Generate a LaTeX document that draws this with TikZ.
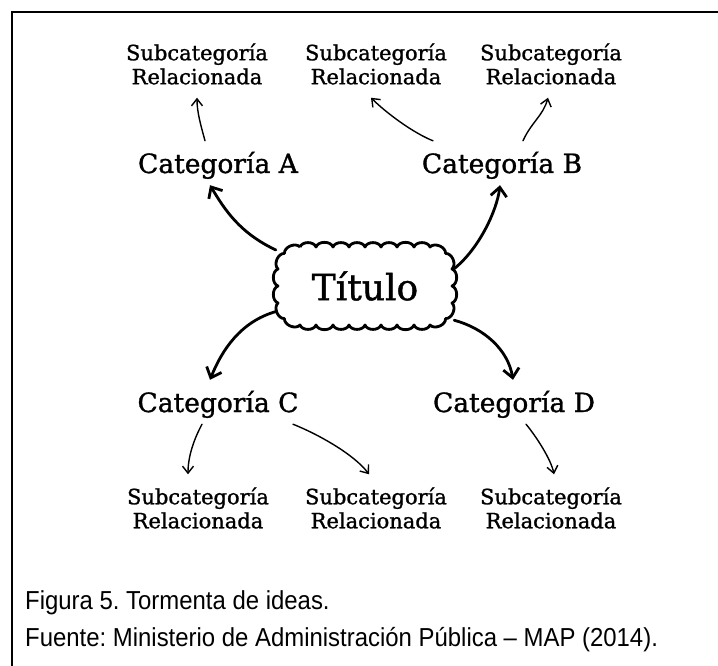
\documentclass[tikz,border=0pt]{standalone}
\usepackage{fontspec}
\setmainfont{DejaVu Serif}[FakeBold=1.2]
\newfontfamily\capfont{Liberation Sans}
\usetikzlibrary{arrows.meta}

\begin{document}
\begin{tikzpicture}[x=1pt,y=-1pt,
  subnode/.style={align=center, inner xsep=0pt, inner ysep=13pt,
    font=\fontsize{21}{24}\selectfont},
  catnode/.style={inner sep=0pt, text height=23pt, text depth=3pt,
    minimum height=44pt, font=\fontsize{26.5}{30}\selectfont},
  bigarrow/.style={line width=2.8pt, line cap=round,
    -{Straight Barb[length=9pt,width=16pt]}},
  smallarrow/.style={line width=1.4pt, line cap=round,
    -{Straight Barb[length=7pt,width=11pt]}},
  cloudline/.style={line width=2.8pt, line join=round},
  caption/.style={anchor=base west, inner sep=0pt, xscale=0.92,
    font=\capfont\frenchspacing\fontsize{26}{30}\selectfont},
]
\useasboundingbox (0,0) rectangle (718,666);
\fill[white] (0,0) rectangle (718,666);
\draw[line width=2pt] (12,666) -- (12,12) -- (718,12);

% central title and the cloud around it
\node[inner sep=0pt, minimum width=178pt, minimum height=82pt,
  font=\fontsize{36}{40}\selectfont] (title) at (365,286) {Título};
\foreach \i/\px/\py in {0/-65/-39, 1/-49/-39, 2/-32/-39, 3/-16/-39,
    4/0/-39, 5/16/-39, 6/32/-39, 7/49/-39, 8/65/-39, 9/80.6/-32.6,
    10/87/-17, 11/87/0, 12/87/17, 13/80.6/32.6, 14/65/39, 15/49/39,
    16/32/39, 17/16/39, 18/0/39, 19/-16/39, 20/-32/39, 21/-49/39,
    22/-65/39, 23/-80.6/32.6, 24/-87/17, 25/-87/0, 26/-87/-17,
    27/-80.6/-32.6}
  {\path (title.center) ++(\px,\py) coordinate (cp\i);}
\draw[cloudline] (cp0) \foreach \i in {1,...,27} { to[bend left=70] (cp\i) }
  to[bend left=70] (cp0);

% categories
\node[catnode] (catA) at (218,163) {Categoría A};
\node[catnode] (catB) at (502,163) {Categoría B};
\node[catnode] (catC) at (218,402) {Categoría C};
\node[catnode] (catD) at (514,402) {Categoría D};

% related subcategories
\node[subnode] (subA)  at (197,64)  {Subcategoría\\Relacionada};
\node[subnode] (subB1) at (376,64)  {Subcategoría\\Relacionada};
\node[subnode] (subB2) at (551,64)  {Subcategoría\\Relacionada};
\node[subnode] (subC1) at (198,508) {Subcategoría\\Relacionada};
\node[subnode] (subC2) at (376,508) {Subcategoría\\Relacionada};
\node[subnode] (subD)  at (551,508) {Subcategoría\\Relacionada};

% title to categories
\draw[bigarrow] (title.158) .. controls +(-36,-17) and +(15,25) .. ([xshift=-8pt]catA.south);
\draw[bigarrow] (title.11)  .. controls +(25,-20) and +(-3,25) .. ([xshift=-2pt]catB.south);
\draw[bigarrow] (title.196) .. controls +(-35,10) and +(12,-30) .. ([xshift=-8pt]catC.north);
\draw[bigarrow] (title.-21) .. controls +(30,8) and +(-5,-30) .. ([xshift=-1pt]catD.north);

% categories to subcategories
\draw[smallarrow] ([xshift=-13pt]catA.north) .. controls +(-4,-15) and +(0,15) .. (subA.south);
\draw[smallarrow] ([xshift=-69pt]catB.north) .. controls +(-20,-8) and +(15,15) .. ([xshift=-5pt]subB1.south);
\draw[smallarrow] ([xshift=21pt]catB.north) .. controls +(8,-18) and +(-5,18) .. ([xshift=-3pt]subB2.south);
\draw[smallarrow] ([xshift=-16pt]catC.south) .. controls +(-8,15) and +(0,-18) .. ([xshift=-10pt]subC1.north);
\draw[smallarrow] ([xshift=75pt]catC.south) .. controls +(25,10) and +(-15,-20) .. ([xshift=-7pt]subC2.north);
\draw[smallarrow] ([xshift=12pt]catD.south) .. controls +(10,12) and +(-3,-15) .. ([xshift=3pt]subD.north);

% caption
\node[caption] (fig) at (25,609) {Figura 5. Tormenta de ideas.};
\node[caption] (src) at (25,646) {Fuente: Ministerio de Administración Pública – MAP (2014).};
\end{tikzpicture}
\end{document}
